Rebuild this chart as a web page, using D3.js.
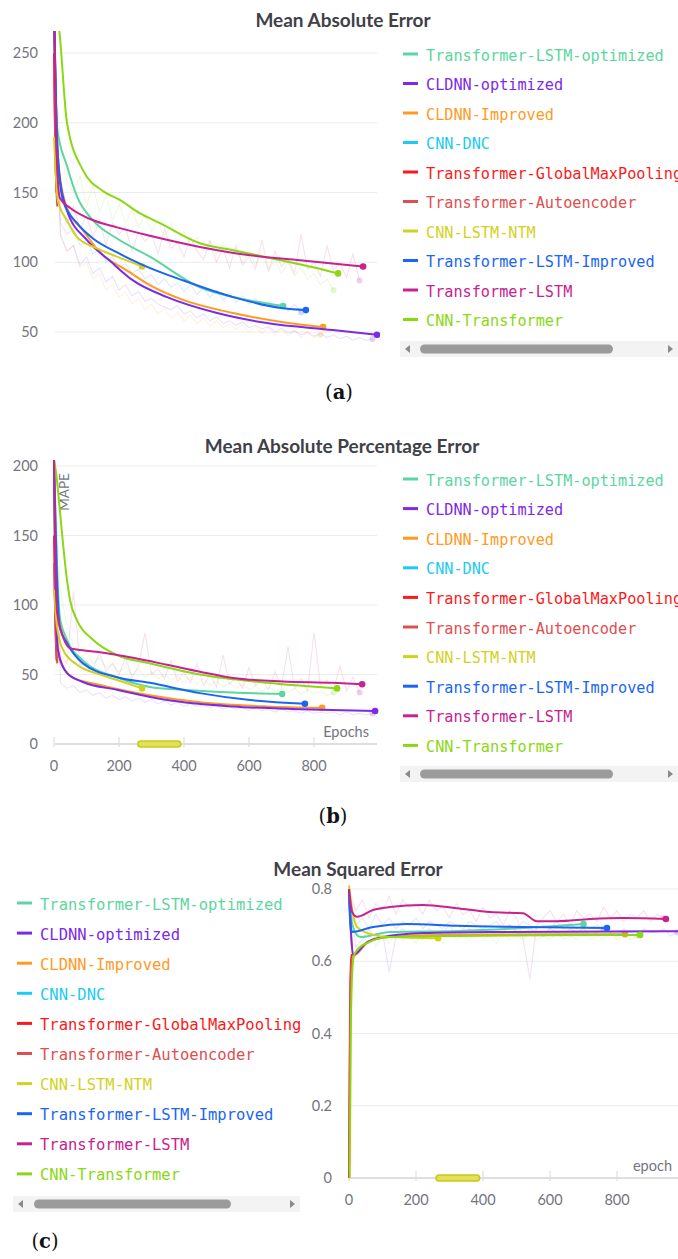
<!DOCTYPE html>
<html><head><meta charset="utf-8">
<script src="https://cdn.jsdelivr.net/npm/d3@7"></script>
<style>body{margin:0;background:#fff}svg{display:block}</style>
</head><body>
<svg id="chart" width="678" height="1259"></svg>
<script>
// ---------- series ----------
const seriesNames = ["Transformer-LSTM-optimized","CLDNN-optimized","CLDNN-Improved","CNN-DNC",
  "Transformer-GlobalMaxPooling","Transformer-Autoencoder","CNN-LSTM-NTM","Transformer-LSTM-Improved",
  "Transformer-LSTM","CNN-Transformer"];
const seriesColors = ["#5cd6a1","#7b2ae8","#ff9a1f","#1ccbf2","#fa1a1a","#de4f4f","#d2d21e","#1a66f2","#c7228f","#8ad813"];

// ---------- (a) Mean Absolute Error : smoothed [epoch, value] ----------
const mae_tlstmOpt = [[0,290],[9,197],[40,169],[71,147],[120,130],[194,117],[295,104],[449,82],[572,74],[705,68.6]];
const mae_cldnnOpt = [[0,290],[12,172],[40,137],[101,116],[172,101],[243,87],[348,75],[502,63.6],[655,56.4],[858,51.4],[994,48]];
const mae_cldnnImp = [[0,280],[12,175],[40,139],[89,123],[142,107],[225,94],[295,83.6],[397,73],[551,63.6],[705,57],[828,53.6]];
const mae_cnnDnc   = [[0,270],[6,200],[12,160]];
const mae_tGmp     = [[0,250],[4,180],[8,150]];
const mae_tAe      = [[0,240],[5,170],[10,140]];
const mae_cnnNtm   = [[0,190],[12,144],[40,130],[71,118],[132,110],[194,104],[271,97]];
const mae_tlstmImp = [[0,280],[10,185],[28,144],[71,128],[120,117],[194,107],[274,98],[397,87],[551,75],[705,67],[775,65.7]];
const mae_tlstm    = [[0,290],[5,200],[18,146],[49,139],[111,131],[194,125],[295,119],[449,111],[603,105],[757,101.4],[951,97]];
const mae_cnnTr    = [[5,290],[18,262],[40,200],[89,166],[151,151],[200,145],[265,135],[326,128],[449,113.6],[551,108.6],[686,102],[797,96.4],[874,92]];
// raw (unsmoothed) values, one every 20 epochs
const mae_raw_tlstm = [262,140,128,140,124,133,118,130,112,128,120,125,108,122,115,120,106,124,110,114,104,118,108,102,115,100,110,96,112,98,104,95,116,93,108,97,102,92,120,95,100,90,112,94,99,89,106,87];
const mae_raw_cnnTr = [265,180,158,150,162,140,155,136,148,130,142,128,138,125,134,122,130,118,128,114,122,112,118,108,116,106,113,104,110,100,108,98,106,95,102,92,100,90,96,88,92,84,88,80];
const mae_raw_cldnnOpt = [240,120,108,112,98,104,92,96,86,90,80,84,76,79,72,74,70,68,66,69,63,65,60,63,58,61,56,58,55,57,53,55,52,54,50,53,49,51,48,50,47,49,46,48,45,47,44,46,44,45];
const mae_raw_tlstmImp = [230,128,120,124,112,116,106,110,100,104,96,99,92,95,88,91,84,88,82,85,79,84,77,82,75,80,73,78,71,76,70,74,68,72,67,71,65,70,64];
const mae_raw_cldnnImp = [220,118,108,112,96,100,88,92,80,84,75,79,70,74,66,70,63,67,60,64,58,62,56,60,54,58,53,56,52,55,50,54,49,53,48,52,47,51,46,50,46,48];

// ---------- (b) Mean Absolute Percentage Error ----------
const mape_tlstmOpt = [[0,200],[9,130],[18,91],[40,75],[89,60],[194,48],[295,41],[397,39],[551,37],[702,36]];
const mape_cldnnOpt = [[0,205],[5,110],[12,67.6],[40,51],[89,44.6],[194,39],[348,31.6],[551,27],[757,25],[988,23.7]];
const mape_cldnnImp = [[0,190],[6,100],[18,60],[58,48],[142,42.5],[295,35],[449,30],[655,27],[825,26]];
const mape_cnnDnc   = [[0,180],[5,100],[10,70]];
const mape_tGmp     = [[0,150],[4,90],[8,60]];
const mape_tAe      = [[0,130],[5,80],[10,58]];
const mape_cnnNtm   = [[0,111],[9,85],[28,67.6],[71,57],[142,50],[194,46],[271,40]];
const mape_tlstmImp = [[0,200],[9,120],[18,84],[40,72.6],[89,58],[194,48],[295,44],[449,36.6],[603,31.6],[772,29]];
const mape_tlstm    = [[0,205],[9,96],[28,77],[49,69],[71,68],[142,66],[243,62],[348,57],[449,52],[551,47.5],[705,45],[858,44],[948,43]];
const mape_cnnTr    = [[0,205],[9,190],[14,178],[40,118],[49,104],[71,89],[120,75],[194,64],[295,58],[449,50],[655,44],[871,40]];
const mape_raw_tlstm = [200,64,58,110,56,60,54,66,52,58,50,62,48,56,80,50,54,47,60,45,52,44,58,42,50,41,64,43,48,40,55,42,46,39,52,41,70,40,47,38,80,42,46,39,56,38,48,37];
const mape_raw_cnnTr = [200,110,85,70,62,66,58,62,55,58,52,56,50,54,48,52,47,50,46,49,44,48,43,47,42,45,41,44,40,43,39,42,38,41,38,40,37,40,36,39,36,38,35,37];
const mape_raw_cldnnOpt = [180,44,40,42,37,39,35,37,33,35,32,34,31,33,30,32,29,31,28,30,27,29,27,28,26,28,25,27,25,26,24,26,24,25,23,25,23,24,22,24,22,23,22,23,21,23,21,22,21,22];

// ---------- (c) Mean Squared Error ----------
const mse_tlstmOpt = [[0,0.80],[10,0.70],[33,0.667],[122,0.681],[322,0.684],[519,0.692],[700,0.703]];
const mse_cldnnOpt = [[0,0.80],[6,0.68],[12,0.617],[54,0.653],[101,0.667],[221,0.678],[421,0.681],[1000,0.683]];
const mse_cldnnImp = [[0,0.79],[6,0.67],[12,0.615],[54,0.650],[101,0.665],[221,0.672],[421,0.674],[824,0.675]];
const mse_cnnDnc   = [[0,0.78],[5,0.69],[10,0.68]];
const mse_tGmp     = [[0,0.0],[3,0.45],[6,0.6],[9,0.62]];
const mse_tAe      = [[0,0.02],[4,0.5],[8,0.61]];
const mse_cnnNtm   = [[0,0.81],[10,0.74],[24,0.695],[72,0.673],[122,0.667],[266,0.664]];
const mse_tlstmImp = [[0,0.80],[5,0.70],[9,0.681],[72,0.695],[173,0.703],[322,0.698],[519,0.695],[770,0.692]];
const mse_tlstm    = [[0,0.80],[10,0.735],[24,0.723],[72,0.742],[122,0.75],[221,0.756],[322,0.747],[421,0.736],[519,0.733],[561,0.711],[621,0.711],[719,0.717],[818,0.72],[946,0.717]];
const mse_cnnTr    = [[2,0.0],[6,0.45],[12,0.6],[18,0.623],[54,0.651],[122,0.667],[322,0.670],[869,0.673]];
const mse_raw_tlstm = [0.8,0.74,0.77,0.72,0.76,0.74,0.78,0.73,0.77,0.75,0.76,0.73,0.77,0.74,0.75,0.72,0.76,0.73,0.74,0.71,0.75,0.72,0.73,0.70,0.74,0.72,0.66,0.55,0.70,0.72,0.74,0.71,0.73,0.70,0.74,0.72,0.73,0.71,0.75,0.72,0.74,0.71,0.73,0.72,0.74,0.71,0.73,0.72];
const mse_raw_cldnnOpt = [0.8,0.64,0.66,0.69,0.66,0.68,0.57,0.67,0.69,0.67,0.68,0.66,0.69,0.67,0.68,0.70,0.67,0.68,0.69,0.67,0.68,0.69,0.67,0.68,0.70,0.68,0.67,0.69,0.68,0.67,0.69,0.68,0.67,0.69,0.68,0.69,0.67,0.68,0.69,0.68,0.67,0.69,0.68,0.67,0.69,0.68,0.68,0.69,0.67,0.68];
const mse_raw_tlstmImp = [0.8,0.70,0.72,0.69,0.73,0.70,0.72,0.69,0.71,0.70,0.72,0.69,0.71,0.70,0.69,0.71,0.70,0.69,0.71,0.70,0.69,0.70,0.71,0.69,0.70,0.69,0.71,0.70,0.69,0.70,0.69,0.71,0.69,0.70,0.69,0.70,0.69,0.70,0.69];
const mse_raw_cnnTr = [0.62,0.63,0.65,0.68,0.64,0.67,0.65,0.68,0.66,0.67,0.65,0.68,0.66,0.67,0.65,0.68,0.66,0.67,0.66,0.68,0.66,0.67,0.65,0.68,0.66,0.67,0.66,0.68,0.66,0.67,0.66,0.68,0.66,0.67,0.66,0.68,0.66,0.67,0.66,0.68,0.66,0.67,0.66,0.67];

const rawStep = 20;
const maeTicks = [50,100,150,200,250];
const mapeTicks = [0,50,100,150,200];
const mseTicks = [0,0.2,0.4,0.6,0.8];
const xTicks = [0,200,400,600,800];

// ---------- drawing ----------
const svg = d3.select("#chart");
const FONT = "Lato, 'Source Sans Pro', 'Noto Sans', sans-serif";
const MONO = "'DejaVu Sans Mono', 'Liberation Mono', monospace";

function drawPanel(o) {
  const g = svg.append("g");
  const x = d3.scaleLinear().domain([0,1000]).range(o.xRange);
  const y = d3.scaleLinear().domain(o.yDomain).range(o.yRange);
  const clipId = "clip" + o.id;
  svg.append("defs").append("clipPath").attr("id", clipId)
    .append("rect").attr("x", o.clip[0]).attr("y", o.clip[1]).attr("width", o.clip[2]).attr("height", o.clip[3]);

  // title
  g.append("text").attr("x", o.titleX).attr("y", o.titleY).attr("text-anchor","middle")
    .attr("font-family", FONT).attr("font-weight", 700).attr("font-size", 19).attr("fill","#404048").text(o.title);

  // grid + y labels
  o.yTicks.forEach(t => {
    if (!(o.xAxisY !== undefined && t === 0)) {
      g.append("line").attr("x1", o.gridX[0]).attr("x2", o.gridX[1]).attr("y1", y(t)).attr("y2", y(t))
        .attr("stroke","#ececec").attr("stroke-width",1);
    }
    g.append("text").attr("x", o.yLabelX).attr("y", y(t)).attr("dy","0.35em").attr("text-anchor","end")
      .attr("font-family", FONT).attr("font-size", 14.5).attr("fill","#74747e").text(o.yFmt ? o.yFmt(t) : t);
  });

  // x axis
  if (o.xAxisY !== undefined) {
    g.append("line").attr("x1", o.gridX[0]).attr("x2", o.gridX[1]).attr("y1", o.xAxisY).attr("y2", o.xAxisY)
      .attr("stroke","#dedede").attr("stroke-width",2);
    xTicks.forEach(t => {
      g.append("line").attr("x1", x(t)).attr("x2", x(t)).attr("y1", o.xAxisY-7).attr("y2", o.xAxisY+3)
        .attr("stroke","#dedede").attr("stroke-width",1.2);
      g.append("text").attr("x", x(t)).attr("y", o.xAxisY+27).attr("text-anchor","middle")
        .attr("font-family", FONT).attr("font-size", 14.5).attr("fill","#74747e").text(t);
    });
    // range scrubber pill
    g.append("rect").attr("x", x(o.pill[0])).attr("y", o.xAxisY-3).attr("width", x(o.pill[1])-x(o.pill[0]))
      .attr("height", 6).attr("rx", 3).attr("fill","#e2e25a").attr("stroke","#c9c918").attr("stroke-width",1.6);
    g.append("text").attr("x", o.xLabel[1]).attr("y", o.xLabel[2]).attr("text-anchor","end")
      .attr("font-family", FONT).attr("font-size", 14.5).attr("fill","#74747e").text(o.xLabel[0]);
  }
  if (o.yLabel) {
    g.append("text").attr("transform", `translate(${o.yLabel[1]},${o.yLabel[2]}) rotate(-90)`)
      .attr("text-anchor","middle").attr("font-family", FONT).attr("font-size", 13.5).attr("fill","#74747e").text(o.yLabel[0]);
  }

  const plot = g.append("g").attr("clip-path", `url(#${clipId})`);
  const rawLine = d3.line().x((d,i) => x(i*rawStep)).y(d => y(d));
  o.raw.forEach(r => {
    plot.append("path").attr("d", rawLine(r.v)).attr("fill","none").attr("stroke", seriesColors[r.s])
      .attr("stroke-opacity",0.14).attr("stroke-width",1.1);
    plot.append("circle").attr("cx", x((r.v.length-1)*rawStep)).attr("cy", y(r.v[r.v.length-1])).attr("r",3)
      .attr("fill", seriesColors[r.s]).attr("fill-opacity",0.22);
  });
  const line = d3.line().x(d => x(d[0])).y(d => y(d[1])).curve(d3.curveMonotoneX);
  const order = [3,4,5,0,2,1,6,7,9,8];
  order.forEach(i => {
    const data = o.smooth[i];
    plot.append("path").attr("d", line(data)).attr("fill","none").attr("stroke", seriesColors[i])
      .attr("stroke-width",2).attr("stroke-linejoin","round");
    if (data.length > 4) {
      const last = data[data.length-1];
      plot.append("circle").attr("cx", x(last[0])).attr("cy", y(last[1])).attr("r",3.3).attr("fill", seriesColors[i]);
    }
  });

  // legend
  const L = o.legend;
  seriesNames.forEach((n,i) => {
    const ry = L.y0 + i*L.dy;
    g.append("line").attr("x1", L.x).attr("x2", L.x+15).attr("y1", ry-2).attr("y2", ry-2)
      .attr("stroke", seriesColors[i]).attr("stroke-width",3);
    g.append("text").attr("x", L.x+23).attr("y", ry+4.5).attr("font-family", MONO).attr("font-size",L.fs)
      .attr("fill", seriesColors[i]).text(n);
  });
  // scrollbar
  const S = o.scroll;
  g.append("rect").attr("x", S.x0).attr("y", S.y-8).attr("width", S.x1-S.x0).attr("height",16).attr("fill","#f3f3f3");
  g.append("rect").attr("x", S.t0).attr("y", S.y-4.5).attr("width", S.t1-S.t0).attr("height",9).attr("rx",4.5).attr("fill","#9b9b9b");
  g.append("path").attr("d", `M${S.x0+10},${S.y-4} L${S.x0+5},${S.y} L${S.x0+10},${S.y+4} Z`).attr("fill","#8a8a8a");
  g.append("path").attr("d", `M${S.x1-10},${S.y-4} L${S.x1-5},${S.y} L${S.x1-10},${S.y+4} Z`).attr("fill","#8a8a8a");

  // caption
  const c = svg.append("text").attr("x", o.cap[1]).attr("y", o.cap[2]).attr("text-anchor","middle")
    .attr("font-family","'DejaVu Serif','Liberation Serif',serif").attr("font-size",19.5).attr("fill","#111");
  c.append("tspan").text("(");
  c.append("tspan").attr("font-weight",700).text(o.cap[0]);
  c.append("tspan").text(")");
}

drawPanel({
  id:"a", title:"Mean Absolute Error", titleX:343, titleY:27,
  xRange:[54,379], yDomain:[0,250], yRange:[401.75,53], clip:[50,31,330,315],
  yTicks:maeTicks, yLabelX:38, gridX:[55,377],
  smooth:[mae_tlstmOpt,mae_cldnnOpt,mae_cldnnImp,mae_cnnDnc,mae_tGmp,mae_tAe,mae_cnnNtm,mae_tlstmImp,mae_tlstm,mae_cnnTr],
  raw:[{s:8,v:mae_raw_tlstm},{s:9,v:mae_raw_cnnTr},{s:1,v:mae_raw_cldnnOpt},{s:7,v:mae_raw_tlstmImp},{s:2,v:mae_raw_cldnnImp}],
  legend:{x:403, y0:56, dy:29.5, fs:15.2},
  scroll:{x0:400, x1:678, t0:420, t1:613, y:349},
  cap:["a",339,399]
});

drawPanel({
  id:"b", title:"Mean Absolute Percentage Error", titleX:342, titleY:453,
  xRange:[54,379], yDomain:[0,200], yRange:[744,466], clip:[50,460,330,286],
  yTicks:mapeTicks, yLabelX:38, gridX:[55,377], xAxisY:744, pill:[258,390],
  xLabel:["Epochs",369,737], yLabel:["MAPE",69,492],
  smooth:[mape_tlstmOpt,mape_cldnnOpt,mape_cldnnImp,mape_cnnDnc,mape_tGmp,mape_tAe,mape_cnnNtm,mape_tlstmImp,mape_tlstm,mape_cnnTr],
  raw:[{s:8,v:mape_raw_tlstm},{s:9,v:mape_raw_cnnTr},{s:1,v:mape_raw_cldnnOpt}],
  legend:{x:403, y0:481, dy:29.6, fs:15.2},
  scroll:{x0:400, x1:678, t0:420, t1:613, y:774},
  cap:["b",333,823]
});

drawPanel({
  id:"c", title:"Mean Squared Error", titleX:358, titleY:876,
  xRange:[349,684], yDomain:[0,0.8], yRange:[1178,889], clip:[345,882,340,298],
  yTicks:mseTicks, yLabelX:332, gridX:[349,678], xAxisY:1178, pill:[260,390],
  xLabel:["epoch",672,1171], yFmt:d3.format("~g"),
  smooth:[mse_tlstmOpt,mse_cldnnOpt,mse_cldnnImp,mse_cnnDnc,mse_tGmp,mse_tAe,mse_cnnNtm,mse_tlstmImp,mse_tlstm,mse_cnnTr],
  raw:[{s:8,v:mse_raw_tlstm},{s:1,v:mse_raw_cldnnOpt},{s:7,v:mse_raw_tlstmImp},{s:9,v:mse_raw_cnnTr}],
  legend:{x:17, y0:905, dy:30.1, fs:15.5},
  scroll:{x0:13, x1:300, t0:34, t1:231, y:1204},
  cap:["c",45,1248]
});
</script>
</body></html>
